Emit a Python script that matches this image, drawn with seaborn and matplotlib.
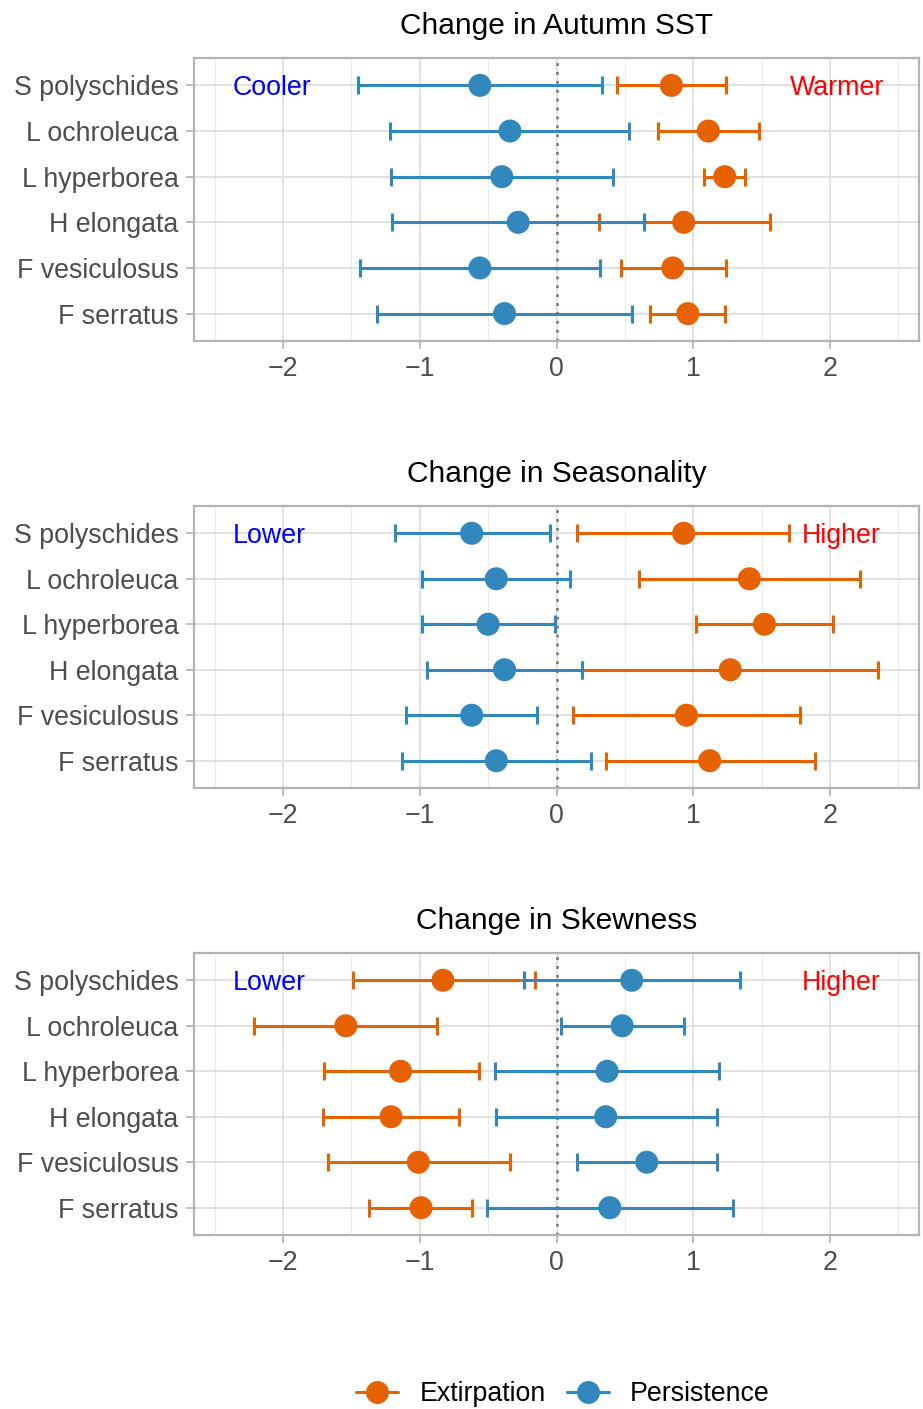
import numpy as np
import pandas as pd
import matplotlib
matplotlib.use("Agg")
import matplotlib.pyplot as plt
from matplotlib.lines import Line2D
import seaborn as sns

# -----------------------------
# Data
# -----------------------------
species = ["S polyschides", "L ochroleuca", "L hyperborea",
           "H elongata", "F vesiculosus", "F serratus"]

panel_titles = ["Change in Autumn SST", "Change in Seasonality", "Change in Skewness"]
left_labels = ["Cooler", "Lower", "Lower"]
right_labels = ["Warmer", "Higher", "Higher"]

# Autumn SST
sst_ext_est = [0.84, 1.11, 1.23, 0.93, 0.85, 0.96]
sst_ext_lo = [0.44, 0.74, 1.08, 0.31, 0.47, 0.68]
sst_ext_hi = [1.24, 1.48, 1.38, 1.56, 1.24, 1.23]
sst_per_est = [-0.56, -0.34, -0.40, -0.28, -0.56, -0.38]
sst_per_lo = [-1.45, -1.22, -1.21, -1.20, -1.44, -1.31]
sst_per_hi = [0.33, 0.53, 0.41, 0.64, 0.32, 0.55]

# Seasonality
sea_ext_est = [0.93, 1.41, 1.52, 1.27, 0.95, 1.12]
sea_ext_lo = [0.15, 0.60, 1.02, 0.19, 0.12, 0.36]
sea_ext_hi = [1.70, 2.22, 2.02, 2.35, 1.78, 1.89]
sea_per_est = [-0.62, -0.44, -0.50, -0.38, -0.62, -0.44]
sea_per_lo = [-1.18, -0.98, -0.98, -0.95, -1.10, -1.13]
sea_per_hi = [-0.05, 0.10, -0.01, 0.19, -0.14, 0.25]

# Skewness
skw_ext_est = [-0.83, -1.54, -1.14, -1.21, -1.01, -0.99]
skw_ext_lo = [-1.49, -2.21, -1.70, -1.71, -1.67, -1.37]
skw_ext_hi = [-0.16, -0.87, -0.57, -0.71, -0.34, -0.62]
skw_per_est = [0.55, 0.48, 0.37, 0.36, 0.66, 0.39]
skw_per_lo = [-0.24, 0.03, -0.45, -0.44, 0.15, -0.51]
skw_per_hi = [1.34, 0.93, 1.19, 1.17, 1.17, 1.29]

groups = ["Extirpation", "Persistence"]
colors = {"Extirpation": "#E66100", "Persistence": "#3288BD"}


def make_frame(ext_est, ext_lo, ext_hi, per_est, per_lo, per_hi):
    rows = []
    for g, est, lo, hi in [("Extirpation", ext_est, ext_lo, ext_hi),
                           ("Persistence", per_est, per_lo, per_hi)]:
        for i, sp in enumerate(species):
            rows.append({"species": sp, "pos": i, "group": g,
                         "est": est[i], "lo": lo[i], "hi": hi[i]})
    return pd.DataFrame(rows)


frames = [
    make_frame(sst_ext_est, sst_ext_lo, sst_ext_hi, sst_per_est, sst_per_lo, sst_per_hi),
    make_frame(sea_ext_est, sea_ext_lo, sea_ext_hi, sea_per_est, sea_per_lo, sea_per_hi),
    make_frame(skw_ext_est, skw_ext_lo, skw_ext_hi, skw_per_est, skw_per_lo, skw_per_hi),
]

# -----------------------------
# Plot
# -----------------------------
sns.set_theme(style="whitegrid")
plt.rcParams["font.family"] = ["Liberation Sans", "DejaVu Sans"]

W, H = 923, 1409
fig = plt.figure(figsize=(W / 100, H / 100), dpi=100)

panel_px = [(58, 341), (506, 788), (953, 1235)]
left_px, right_px = 194, 919
left_x = [-2.08, -2.1, -2.1]
right_x = [2.05, 2.08, 2.08]

for k, (df, (top, bot)) in enumerate(zip(frames, panel_px)):
    ax = fig.add_axes([left_px / W, 1 - bot / H, (right_px - left_px) / W, (bot - top) / H])
    ax.set_axisbelow(True)

    ax.axvline(0, color="#7F7F7F", linestyle=(0, (1, 2.2)), linewidth=2, zorder=1)

    for g in groups:
        sub = df[df["group"] == g]
        ax.errorbar(sub["est"], sub["pos"],
                    xerr=[sub["est"] - sub["lo"], sub["hi"] - sub["est"]],
                    fmt="none", ecolor=colors[g], elinewidth=2.2,
                    capsize=6.5, capthick=2.2, zorder=2)

    sns.scatterplot(data=df, x="est", y="pos", hue="group", palette=colors,
                    hue_order=groups, s=275, linewidth=0, legend=False,
                    ax=ax, zorder=3)

    ax.set_xlim(-2.65, 2.65)
    ax.set_ylim(len(species) - 0.4, -0.6)
    ax.set_xticks([-2, -1, 0, 1, 2])
    ax.set_xticklabels(["\u22122", "\u22121", "0", "1", "2"])
    ax.set_xticks([-2.5, -1.5, -0.5, 0.5, 1.5, 2.5], minor=True)
    ax.set_yticks(range(len(species)))
    ax.set_yticklabels(species)
    ax.set_xlabel("")
    ax.set_ylabel("")

    ax.grid(True, which="major", color="#DEDEDE", linewidth=1.3)
    ax.grid(True, which="minor", axis="x", color="#EBEBEB", linewidth=0.8)
    for s in ax.spines.values():
        s.set_visible(True)
        s.set_color("#B3B3B3")
        s.set_linewidth(1.6)

    ax.tick_params(axis="both", which="major", length=6, width=1.2,
                   color="#B3B3B3", labelsize=19.3, labelcolor="#4D4D4D",
                   bottom=True, left=True, pad=5)
    ax.tick_params(axis="x", which="minor", length=0)

    ax.set_title(panel_titles[k], fontsize=21.5, color="black", pad=17)

    ax.text(left_x[k], 0, left_labels[k], color="#0000FF", fontsize=19.3,
            ha="center", va="center_baseline")
    ax.text(right_x[k], 0, right_labels[k], color="#FF0000", fontsize=19.3,
            ha="center", va="center_baseline")

handles = [Line2D([0], [0], color=colors[g], linewidth=2.2, marker="o",
                  markersize=16.5, markeredgewidth=0) for g in groups]
leg = fig.legend(handles, groups, loc="center", bbox_to_anchor=(563 / W, 1 - 1394 / H),
                 ncol=2, frameon=False, fontsize=19.3, handlelength=1.55,
                 handletextpad=0.8, columnspacing=0.8)
for t in leg.get_texts():
    t.set_color("black")

fig.savefig("out.png", dpi=100)
